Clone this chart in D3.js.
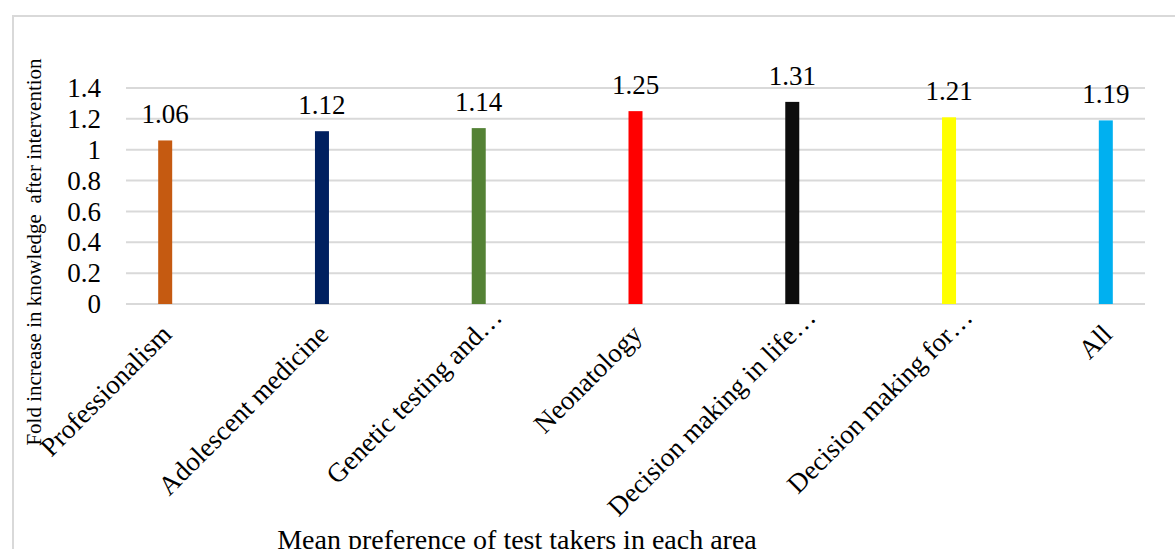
<!DOCTYPE html>
<html>
<head>
<meta charset="utf-8">
<script src="https://cdn.jsdelivr.net/npm/d3@7"></script>
<style>
  html, body { margin: 0; padding: 0; background: #fff; }
  svg { display: block; }
  text { font-family: "Liberation Serif", "Times New Roman", serif; fill: #000; }
</style>
</head>
<body>
<svg id="chart" width="1175" height="549"></svg>
<script>
const categories = ["Professionalism", "Adolescent medicine", "Genetic testing and\u2026", "Neonatology",
  "Decision making in life\u2026", "Decision making for\u2026", "All"];
const values = [1.06, 1.12, 1.14, 1.25, 1.31, 1.21, 1.19];
const barColors = ["#C55A11", "#002060", "#548235", "#FF0000", "#0D0D0D", "#FFFF00", "#00B0F0"];
const yTicks = [0, 0.2, 0.4, 0.6, 0.8, 1, 1.2, 1.4];
const yTitle = "Fold increase in knowledge  after intervention";
const xTitle = "Mean preference of test takers in each area";

const svg = d3.select("#chart");
const plot = { left: 126, right: 1145, top: 88, bottom: 304 };

// outer frame (only top and left visible in the crop)
svg.append("path")
  .attr("d", `M13,549 L13,16 L1175,16`)
  .attr("fill", "none").attr("stroke", "#d9d9d9").attr("stroke-width", 2);

const x = d3.scalePoint().domain(categories).range([plot.left, plot.right]).padding(0.25);
const y = d3.scaleLinear().domain([0, 1.4]).range([plot.bottom, plot.top]);

// gridlines
svg.append("g").selectAll("line").data(yTicks).join("line")
  .attr("x1", plot.left).attr("x2", plot.right)
  .attr("y1", d => y(d)).attr("y2", d => y(d))
  .attr("stroke", "#d9d9d9").attr("stroke-width", 2);

// y axis labels
const yAxis = d3.axisLeft(y).tickValues(yTicks).tickSize(0).tickPadding(0)
  .tickFormat(d => String(d));
const gy = svg.append("g").attr("transform", `translate(101,0)`).call(yAxis);
gy.select(".domain").remove();
gy.selectAll("text").attr("font-size", 27).attr("font-family", "Liberation Serif").attr("fill", "#000");

// bars
const bw = 14;
svg.append("g").selectAll("rect").data(values).join("rect")
  .attr("x", (d, i) => x(categories[i]) - bw / 2)
  .attr("width", bw)
  .attr("y", d => y(d))
  .attr("height", d => y(0) - y(d))
  .attr("fill", (d, i) => barColors[i]);

// value labels
svg.append("g").selectAll("text").data(values).join("text")
  .attr("x", (d, i) => x(categories[i]))
  .attr("y", d => y(d) - 17)
  .attr("text-anchor", "middle")
  .attr("font-size", 27)
  .text(d => d.toFixed(2));

// category labels (truncated labels sit a little further out, as in the original)
svg.append("g").selectAll("text").data(categories).join("text")
  .attr("transform", d => `translate(${x(d) + 8},336) rotate(-45)`)
  .attr("text-anchor", "end")
  .attr("dx", d => d.endsWith("\u2026") ? 24 : 0)
  .attr("font-size", 27)
  .text(d => d);

// axis titles
svg.append("text")
  .attr("transform", `translate(41,252) rotate(-90)`)
  .attr("text-anchor", "middle")
  .attr("font-size", 21)
  .style("white-space", "pre")
  .attr("xml:space", "preserve")
  .text(yTitle);

svg.append("text")
  .attr("x", 517).attr("y", 549)
  .attr("text-anchor", "middle")
  .attr("font-size", 28)
  .text(xTitle);
</script>
</body>
</html>
